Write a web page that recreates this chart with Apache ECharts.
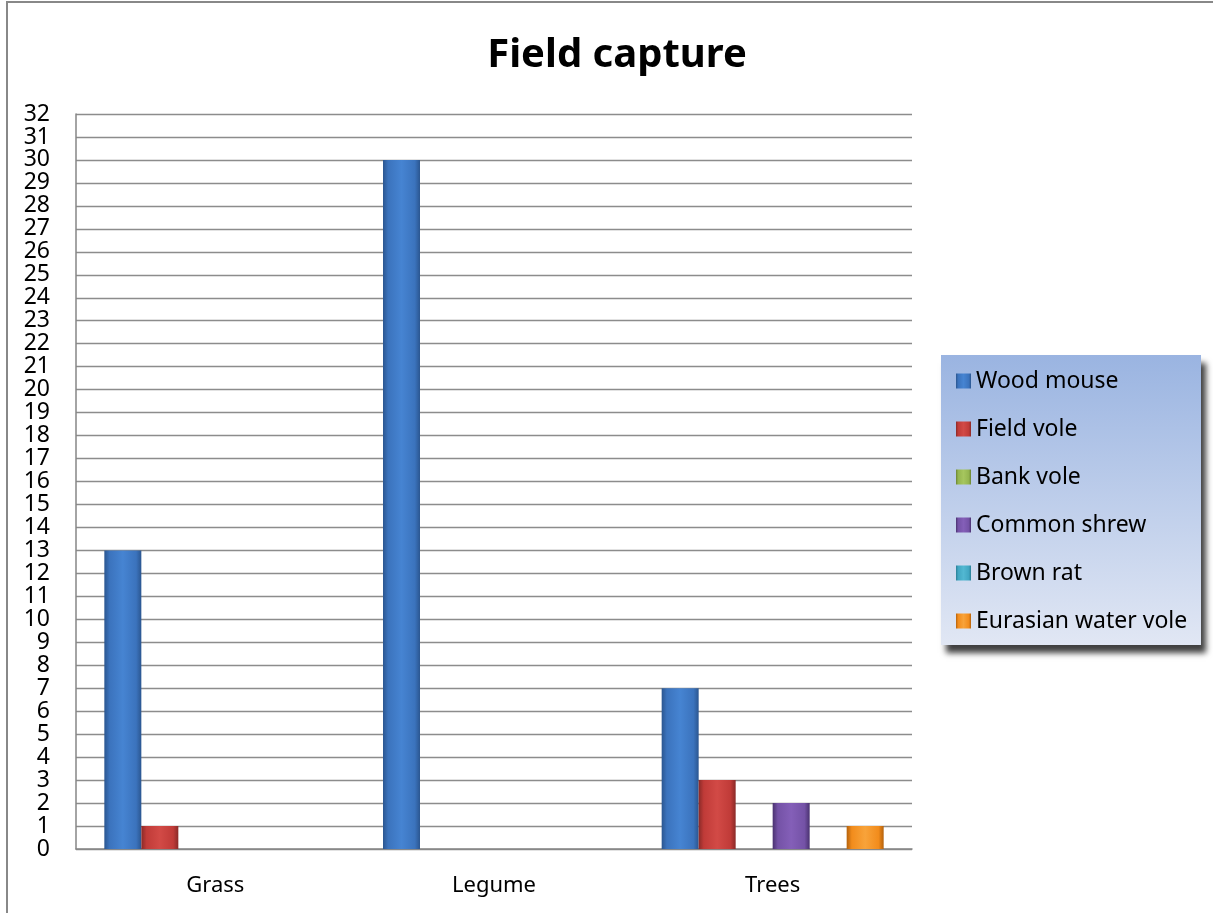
<!DOCTYPE html>
<html>
<head>
<meta charset="utf-8">
<title>Field capture</title>
<script src="https://cdn.jsdelivr.net/npm/echarts@6/dist/echarts.min.js"></script>
<style>
  html, body { margin: 0; padding: 0; background: #ffffff; }
  #chart { width: 1213px; height: 913px; }
</style>
</head>
<body>
<div id="chart"></div>
<script>
// Habitats sampled
const habitats = ['Grass', 'Legume', 'Trees'];

// Captures per species, one value per habitat
const woodMouse        = [13, 30, 7];
const fieldVole        = [1, 0, 3];
const bankVole         = [0, 0, 0];
const commonShrew      = [0, 0, 2];
const brownRat         = [0, 0, 0];
const eurasianWaterVole = [0, 0, 1];

const speciesNames = ['Wood mouse', 'Field vole', 'Bank vole', 'Common shrew', 'Brown rat', 'Eurasian water vole'];
const speciesValues = [woodMouse, fieldVole, bankVole, commonShrew, brownRat, eurasianWaterVole];

// y axis range
const yMin = 0, yMax = 32, yStep = 1;

// bevelled look: dark edges, light middle
function bevel(edge, mid, light) {
  return {
    type: 'linear', x: 0, y: 0, x2: 1, y2: 0,
    colorStops: [
      { offset: 0, color: edge },
      { offset: 0.14, color: mid },
      { offset: 0.5, color: light },
      { offset: 0.86, color: mid },
      { offset: 1, color: edge }
    ]
  };
}
const palette = [
  bevel('#2b5690', '#3b73bd', '#4684d2'),
  bevel('#8a2a28', '#c03b38', '#d24a46'),
  bevel('#6b8433', '#94b54f', '#a6c65e'),
  bevel('#4a3270', '#7452a6', '#845fb8'),
  bevel('#2b7f96', '#41a6c2', '#52b8d2'),
  bevel('#b5620c', '#f28c1c', '#f8a33a')
];

const chart = echarts.init(document.getElementById('chart'), null, { renderer: 'canvas' });

const series = speciesNames.map((name, i) => ({
  name: name,
  type: 'bar',
  data: speciesValues[i],
  barWidth: 37,
  barGap: '0%',
  itemStyle: { color: palette[i] },
  emphasis: { disabled: true }
}));

chart.setOption({
  animation: false,
  backgroundColor: '#ffffff',
  title: {
    text: 'Field capture',
    left: 612,
    textAlign: 'center',
    top: 31,
    textStyle: { fontFamily: 'Noto Sans', fontWeight: 'bold', fontSize: 40, color: '#000000' }
  },
  grid: { left: 76, right: 301, top: 114, bottom: 64, containLabel: false },
  xAxis: {
    type: 'category',
    data: habitats,
    axisLine: { show: true, lineStyle: { color: '#868686', width: 1.5 } },
    axisTick: { show: false },
    axisLabel: { fontFamily: 'Noto Sans', fontSize: 22, color: '#000000', margin: 26 },
    splitLine: { show: false }
  },
  yAxis: {
    type: 'value',
    min: yMin, max: yMax, interval: yStep,
    axisLine: { show: true, lineStyle: { color: '#868686', width: 1.5 } },
    axisTick: { show: false },
    axisLabel: { fontFamily: 'Noto Sans', fontSize: 23, color: '#000000', margin: 26 },
    splitLine: { show: true, lineStyle: { color: '#8c8c8c', width: 1.4 } }
  },
  legend: {
    orient: 'vertical',
    left: 956,
    top: 369,
    padding: 0,
    itemWidth: 15,
    itemHeight: 15,
    itemGap: 24,
    icon: 'rect',
    selectedMode: false,
    textStyle: { fontFamily: 'Noto Sans', fontSize: 23, color: '#000000', lineHeight: 24 },
    data: speciesNames
  },
  graphic: [
    {
      type: 'rect',
      z: -10,
      shape: { x: 7, y: 2, width: 1300, height: 1000 },
      style: { fill: 'none', stroke: '#888888', lineWidth: 2 }
    },
    {
      type: 'rect',
      z: -5,
      shape: { x: 941, y: 355, width: 260, height: 290 },
      style: {
        fill: {
          type: 'linear', x: 0, y: 0, x2: 0, y2: 1,
          colorStops: [
            { offset: 0, color: '#9ab4e1' },
            { offset: 1, color: '#e1e7f4' }
          ]
        },
        shadowBlur: 6,
        shadowOffsetX: 5,
        shadowOffsetY: 8,
        shadowColor: 'rgba(0,0,0,0.75)'
      }
    }
  ],
  series: series
});
</script>
</body>
</html>
